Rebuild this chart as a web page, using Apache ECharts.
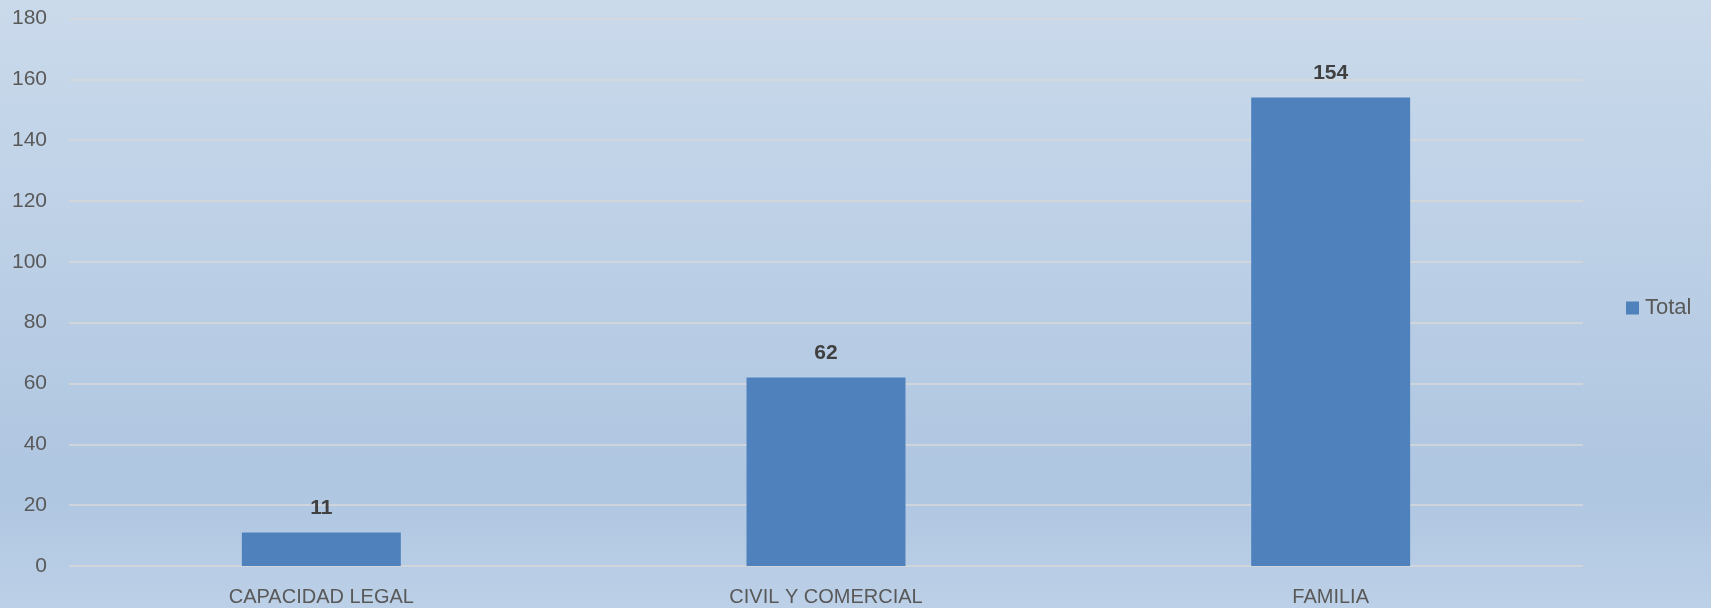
<!DOCTYPE html>
<html>
<head>
<meta charset="utf-8">
<script src="https://cdn.jsdelivr.net/npm/echarts@6/dist/echarts.min.js"></script>
<style>
  html, body { margin: 0; padding: 0; }
  #chart { width: 1711px; height: 608px; }
</style>
</head>
<body>
<div id="chart"></div>
<script>
const categories = ['CAPACIDAD LEGAL', 'CIVIL Y COMERCIAL', 'FAMILIA']
const totals = [11, 62, 154]
const seriesName = 'Total'

const chart = echarts.init(document.getElementById('chart'))

chart.setOption({
  animation: false,
  backgroundColor: {
    type: 'linear', x: 0, y: 0, x2: 0, y2: 1,
    colorStops: [
      { offset: 0, color: '#cadaeb' },
      { offset: 0.8, color: '#afc6e1' },
      { offset: 1, color: '#bcd0e7' }
    ]
  },
  textStyle: { fontFamily: 'Liberation Sans, Arial, sans-serif' },
  grid: { left: 69, right: 128, top: 18.5, bottom: 42 },
  legend: {
    data: [seriesName],
    orient: 'vertical',
    left: 1626,
    top: 297,
    padding: 0,
    itemWidth: 13,
    itemHeight: 13,
    itemGap: 6,
    icon: 'rect',
    textStyle: { fontSize: 22, color: '#595959', padding: [0, 0, 0, 1] }
  },
  xAxis: {
    type: 'category',
    data: categories,
    axisLine: { show: false },
    axisTick: { show: false },
    axisLabel: { fontSize: 20, color: '#595959', margin: 21 }
  },
  yAxis: {
    type: 'value',
    min: 0,
    max: 180,
    interval: 20,
    axisLine: { show: false },
    axisTick: { show: false },
    axisLabel: { fontSize: 21, color: '#595959', margin: 22 },
    splitLine: { lineStyle: { color: '#d9d9d9', width: 1.5 } }
  },
  series: [
    {
      name: seriesName,
      type: 'bar',
      data: totals,
      barWidth: '31.5%',
      itemStyle: { color: '#4f81bd' },
      label: {
        show: true,
        position: 'top',
        distance: 14,
        fontSize: 21,
        fontWeight: 'bold',
        color: '#404040'
      }
    }
  ]
})
</script>
</body>
</html>
